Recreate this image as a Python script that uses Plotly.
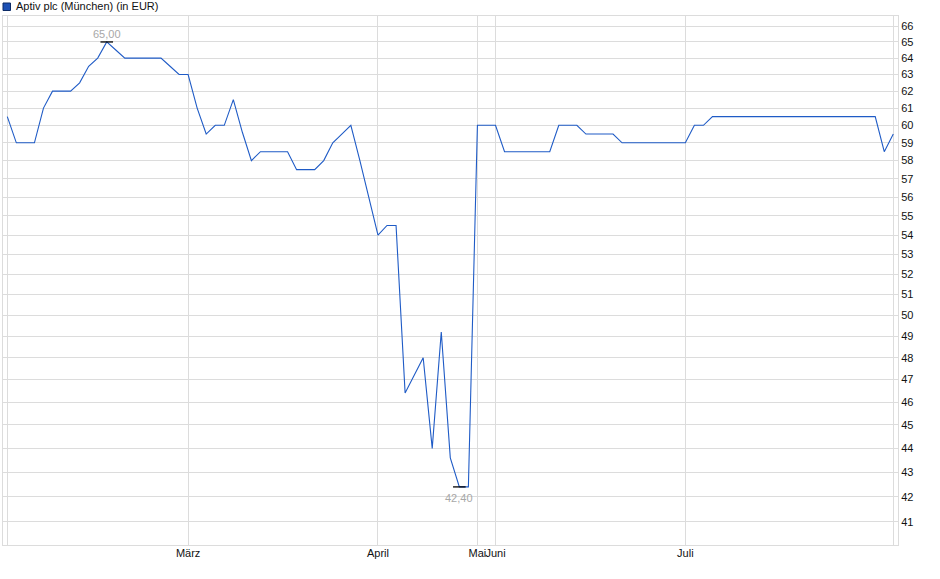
import plotly.graph_objects as go
import math

# ---- data ----
series_name = "Aptiv plc (München) (in EUR)"
prices = [
    60.5, 59, 59, 59, 61, 62, 62, 62, 62.5, 63.5, 64, 65, 64.5, 64, 64, 64, 64, 64, 63.5, 63, 63,
    61, 59.5, 60, 60, 61.5, 59.6, 58, 58.5, 58.5, 58.5, 58.5, 57.5, 57.5, 57.5, 58, 59, 59.5, 60, 58, 56,
    54, 54.5, 54.5, 46.4, 47.2, 48, 44, 49.2, 43.6, 42.4, 42.4,
    60, 60,
    60, 58.5, 58.5, 58.5, 58.5, 58.5, 58.5, 60, 60, 60, 59.5, 59.5, 59.5, 59.5, 59, 59, 59, 59, 59, 59, 59,
    59, 60, 60] + [60.5] * 19 + [58.5, 59.5]
point_months = (["Feb"] * 20 + ["März"] * 21 + ["April"] * 11 + ["Mai"] * 2 +
                ["Juni"] * 21 + ["Juli"] * 24)
y_ticks = list(range(41, 67))

# ---- derived ----
x = list(range(len(prices)))
tickvals, ticktext = [0], [""]
for i, m in enumerate(point_months):
    if i > 0 and m != point_months[i - 1]:
        tickvals.append(i)
        ticktext.append(m)
tickvals.append(len(prices) - 1)
ticktext.append("")

imax = prices.index(max(prices))
imin = prices.index(min(prices))

def fmt(v):
    return f"{v:.2f}".replace(".", ",")

LINE = "#1f5bc6"
GRID = "#dcdcdc"
FONT = "Liberation Sans, Arial, sans-serif"

fig = go.Figure()
fig.add_trace(go.Scatter(x=x, y=prices, mode="lines", line=dict(color=LINE, width=1.1),
                         name=series_name, hoverinfo="x+y"))
fig.add_trace(go.Scatter(x=[imax, imin], y=[prices[imax], prices[imin]], mode="markers",
                         marker=dict(symbol="line-ew", size=9, line=dict(width=1.3, color="black")),
                         hoverinfo="skip"))

fig.add_annotation(x=imax, y=math.log10(prices[imax]), text=fmt(prices[imax]), showarrow=False,
                   yanchor="bottom", yshift=0, font=dict(family=FONT, size=11, color="#a8a8a8"))
fig.add_annotation(x=imin, y=math.log10(prices[imin]), text=fmt(prices[imin]), showarrow=False,
                   yanchor="top", yshift=-3, font=dict(family=FONT, size=11, color="#a8a8a8"))

# legend swatch + label (header)
W, H, L, T = 895.0, 529.0, 3.0, 16.0
def px_x(p):
    return (p - L) / W
def px_y(p):
    return (T + H - p) / H
fig.add_shape(type="rect", xref="paper", yref="paper",
              x0=px_x(3), x1=px_x(10.5), y0=px_y(10.5), y1=px_y(3),
              fillcolor="#1c50b4", line=dict(color="#0b2a66", width=1))
fig.add_annotation(xref="paper", yref="paper", x=px_x(14), y=px_y(6.5), text=series_name,
                   showarrow=False, xanchor="left", yanchor="middle",
                   font=dict(family=FONT, size=11, color="#111"))

fig.update_layout(
    width=940, height=579,
    margin=dict(l=3, r=42, t=16, b=34, autoexpand=False),
    plot_bgcolor="white", paper_bgcolor="white",
    showlegend=False,
    font=dict(family=FONT, size=11, color="#111"),
    xaxis=dict(range=[-0.476, 98.52], tickmode="array", tickvals=tickvals, ticktext=ticktext,
               showgrid=True, gridcolor=GRID, gridwidth=1, zeroline=False, automargin=False,
               tickangle=0, ticklabelstandoff=-2,
               showline=True, linecolor=GRID, linewidth=1, mirror=True, ticks="",
               tickfont=dict(family=FONT, size=11, color="#111")),
    yaxis=dict(type="log", range=[math.log10(40.1), math.log10(66.64)], side="right",
               tickmode="array", tickvals=y_ticks, ticktext=[str(v) for v in y_ticks],
               showgrid=True, gridcolor=GRID, gridwidth=1, zeroline=False, automargin=False,
               showline=True, linecolor=GRID, linewidth=1, mirror=True, ticks="",
               tickfont=dict(family=FONT, size=11, color="#111")),
)

fig.write_html("out.html", config={"displayModeBar": False},
               post_script="document.body.style.margin='0';")
